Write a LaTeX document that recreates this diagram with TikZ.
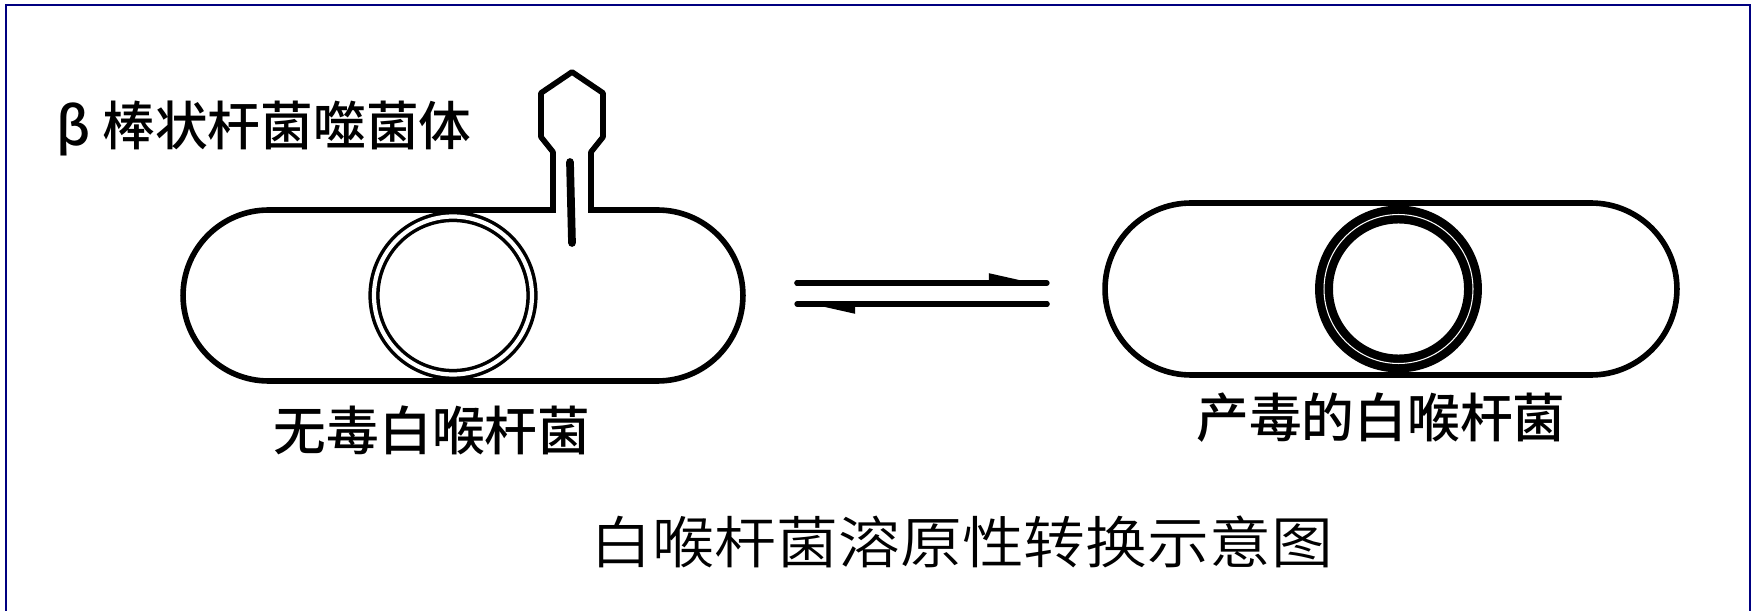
\documentclass[tikz,border=0pt]{standalone}
\usepackage{fontspec}
\newfontfamily\hei{Noto Sans CJK SC}[UprightFont={* Medium}]
\newfontfamily\heilight{Noto Sans CJK SC}[UprightFont={* DemiLight}]
\usetikzlibrary{shapes.misc,arrows.meta}
\definecolor{framenavy}{RGB}{0,0,128}

\begin{document}
\begin{tikzpicture}[
    x=0.02cm,y=-0.02cm,
    cell/.style={rounded rectangle,draw,line width=3.2pt,inner sep=0pt},
    ring/.style={circle,draw,double,inner sep=0pt},
    cjktext/.style={font=\hei\fontsize{30}{30}\selectfont,inner sep=0pt},
    titletext/.style={font=\heilight\fontsize{32}{32}\selectfont,inner sep=0pt,xscale=1.1},
    phage/.style={line width=3.2pt,line join=round},
    eqarrow/.style={line width=3pt,line cap=round,
        postaction={draw,-{Triangle[left,length=0.9cm,width=0.36cm]}}}
]
\useasboundingbox (0,0) rectangle (1759,611);
% frame, open at the bottom
\draw[framenavy,line width=1.6pt] (6,611) -- (6,5) -- (1750,5) -- (1750,611);

% non-toxigenic cell, phage sitting on its wall
\node[cell,minimum width=11.2cm,minimum height=3.42cm] (cellA) at (463,295.5) {};
\node[ring,minimum size=3.16cm,line width=2pt,double distance=2.4pt] (plasA) at (453,295.5) {};
\fill[white] (556,203) rectangle (588,217);
\draw[phage] (553,210) -- (553,152) -- (541,137) -- (541,93) -- (572,72)
    -- (603,93) -- (603,137) -- (591,152) -- (591,210);
\draw[line width=4.4pt,line cap=round] (570,162) -- (572,243);

% toxigenic cell
\node[cell,minimum width=11.44cm,minimum height=3.44cm] (cellB) at (1391,289) {};
\node[ring,minimum size=2.98cm,line width=4.8pt,double distance=0.6pt] (plasB) at (1398.5,289) {};

% reversible conversion
\coordinate (fwdS) at (797,283);
\coordinate (fwdE) at (1047,283);
\coordinate (revS) at (1047,304);
\coordinate (revE) at (797,304);
\draw[eqarrow] (fwdS) -- (fwdE);
\draw[eqarrow] (revS) -- (revE);

\node[cjktext] (phageLbl) at (264,128) {β 棒状杆菌噬菌体};
\node[cjktext] (cellALbl) at (432,430) {无毒白喉杆菌};
\node[cjktext] (cellBLbl) at (1381,418) {产毒的白喉杆菌};
\node[titletext] (title) at (962,542) {白喉杆菌溶原性转换示意图};
\end{tikzpicture}
\end{document}
